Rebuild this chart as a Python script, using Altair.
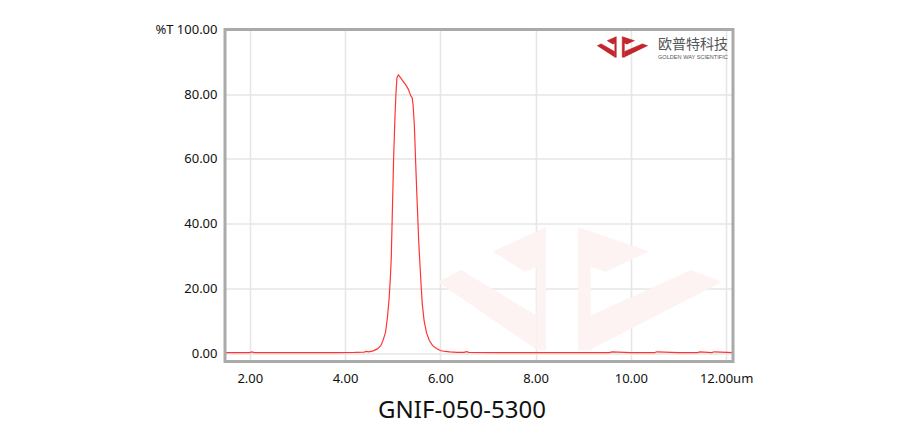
import altair as alt
import pandas as pd

# ---- spectrum (wavelength in um, %T) ----
wl = [1.48, 2.0, 2.04, 2.1, 2.6, 3.2, 3.8, 4.2, 4.4, 4.45, 4.5, 4.59, 4.68, 4.75, 4.80, 4.85,
      4.89, 4.925, 4.95, 4.97, 4.994, 5.02, 5.05, 5.07, 5.09, 5.12, 5.16, 5.22, 5.28, 5.33,
      5.38, 5.41, 5.43, 5.456, 5.48, 5.506, 5.548, 5.59, 5.62, 5.66, 5.71, 5.77, 5.84,
      5.92, 6.0, 6.1, 6.2, 6.35, 6.5, 6.55, 6.6, 7.2, 8.0, 8.8, 9.55, 9.6, 10.0, 10.5, 10.55,
      11.0, 11.4, 11.45, 11.7, 11.75, 12.145]
tr = [0.15, 0.15, 0.35, 0.15, 0.15, 0.15, 0.15, 0.2, 0.3, 0.5, 0.35, 0.7, 1.3, 2.3, 4.0, 6.4,
      11.0, 16.7, 23.0, 29.0, 44.0, 60.0, 73.8, 80.5, 85.1, 86.0, 85.2, 84.0, 82.8, 81.5,
      79.5, 78.9, 76.5, 70.2, 60.0, 49.6, 34.2, 22.8, 15.5, 10.0, 6.3, 3.9, 2.3,
      1.4, 0.8, 0.5, 0.35, 0.25, 0.2, 0.45, 0.2, 0.15, 0.15, 0.15, 0.15, 0.35, 0.15, 0.15, 0.4,
      0.15, 0.15, 0.35, 0.15, 0.4, 0.15]

x_ticks = [2, 4, 6, 8, 10, 12]
y_ticks = [0, 20, 40, 60, 80, 100]

# ---- logo outline in unit coordinates (u 0..1 left->right, v 0..1 bottom->top) ----
logo_poly = ["A", "A", "A", "A",
             "B", "B", "B", "B", "B", "B",
             "C", "C", "C", "C",
             "D", "D", "D", "D", "D", "D"]
logo_u = [0.0, 0.082, 0.347, 0.347,
          0.194, 0.380, 0.380, 0.347, 0.347, 0.306,
          1.0, 0.891, 0.538, 0.538,
          0.742, 0.494, 0.494, 0.538, 0.538, 0.592]
logo_v = [0.555, 0.651, 0.280, 0.005,
          0.802, 1.0, 0.0, 0.0, 0.679, 0.637,
          0.555, 0.651, 0.280, 0.005,
          0.802, 1.0, 0.0, 0.0, 0.679, 0.637]


def place(x0, x1, y0, y1, tag):
    rows = []
    for i, (p, u, v) in enumerate(zip(logo_poly, logo_u, logo_v)):
        rows.append({"poly": tag + p, "o": i, "x": x0 + u * (x1 - x0), "y": y0 + v * (y1 - y0)})
    return pd.DataFrame(rows)


wm_df = place(5.95, 11.91, 0.9, 38.9, "wm")
lg_df = place(9.29, 10.36, 91.4, 97.8, "lg")

df = pd.DataFrame({"x": wl, "y": tr, "o": range(len(wl))})

xs = alt.Scale(domain=[1.48, 12.145], nice=False, zero=False)
ys = alt.Scale(domain=[-2.6, 100], nice=False, zero=False)

FONT = "Noto Sans"
W, H = 508, 332

x_axis = alt.Axis(values=x_ticks, ticks=False, domain=False, labelFont=FONT, labelFontSize=13,
                  labelColor="#111111", labelPadding=11, gridColor="#e6e6e6", gridWidth=1.6,
                  labelExpr="datum.value == 12 ? '12.00um' : format(datum.value, '.2f')",
                  title=None)
y_axis = alt.Axis(values=y_ticks, ticks=False, domain=False, labelFont=FONT, labelFontSize=13,
                  labelColor="#111111", labelPadding=8, gridColor="#e6e6e6", gridWidth=1.6,
                  labelExpr="datum.value == 100 ? '%T 100.00' : format(datum.value, '.2f')",
                  title=None)

wm = alt.Chart(wm_df).mark_line(fill="#fdf3f3", strokeWidth=0.3, color="#fdf3f3").encode(
    x=alt.X("x:Q", scale=xs, axis=x_axis),
    y=alt.Y("y:Q", scale=ys, axis=y_axis),
    detail="poly:N",
    order="o:Q",
)

curve = alt.Chart(df).mark_line(color="#ff3535", strokeWidth=1.2).encode(
    x=alt.X("x:Q", scale=xs),
    y=alt.Y("y:Q", scale=ys),
    order="o:Q",
)

logo = alt.Chart(lg_df).mark_line(fill="#c3262c", strokeWidth=0.4, color="#c3262c").encode(
    x=alt.X("x:Q", scale=xs),
    y=alt.Y("y:Q", scale=ys),
    detail="poly:N",
    order="o:Q",
)

brand_df = pd.DataFrame({"x": [10.57], "y": [95.1], "t": ["欧普特科技"]})
brand = alt.Chart(brand_df).mark_text(align="left", baseline="middle", font="Noto Sans CJK SC",
                                       fontSize=14, color="#555555").encode(
    x=alt.X("x:Q", scale=xs), y=alt.Y("y:Q", scale=ys), text="t:N")

sub_df = pd.DataFrame({"x": [10.57], "y": [91.6], "t": ["GOLDEN WAY SCIENTIFIC"]})
sub = alt.Chart(sub_df).mark_text(align="left", baseline="middle", font="Liberation Sans",
                                   fontSize=5.6, color="#555555").encode(
    x=alt.X("x:Q", scale=xs), y=alt.Y("y:Q", scale=ys), text="t:N")

frame = alt.Chart(pd.DataFrame({"k": [0]})).mark_rect(
    fill="transparent", stroke="#aaaaaa", strokeWidth=3
).encode(x=alt.value(0), x2=alt.value(W), y=alt.value(0), y2=alt.value(H))

chart = alt.layer(wm, curve, logo, brand, sub, frame).properties(
    width=W,
    height=H,
    autosize=alt.AutoSizeParams(type="none"),
    padding={"left": 217, "top": 21.5, "right": 180, "bottom": 80},
    title=alt.TitleParams("GNIF-050-5300", orient="bottom", font=FONT, fontSize=24,
                          fontWeight="normal", color="#111111", offset=13, dx=-17),
).configure_view(
    stroke=None
).configure(background="white")

chart.save("out.html", embed_options={"renderer": "svg", "actions": False})
